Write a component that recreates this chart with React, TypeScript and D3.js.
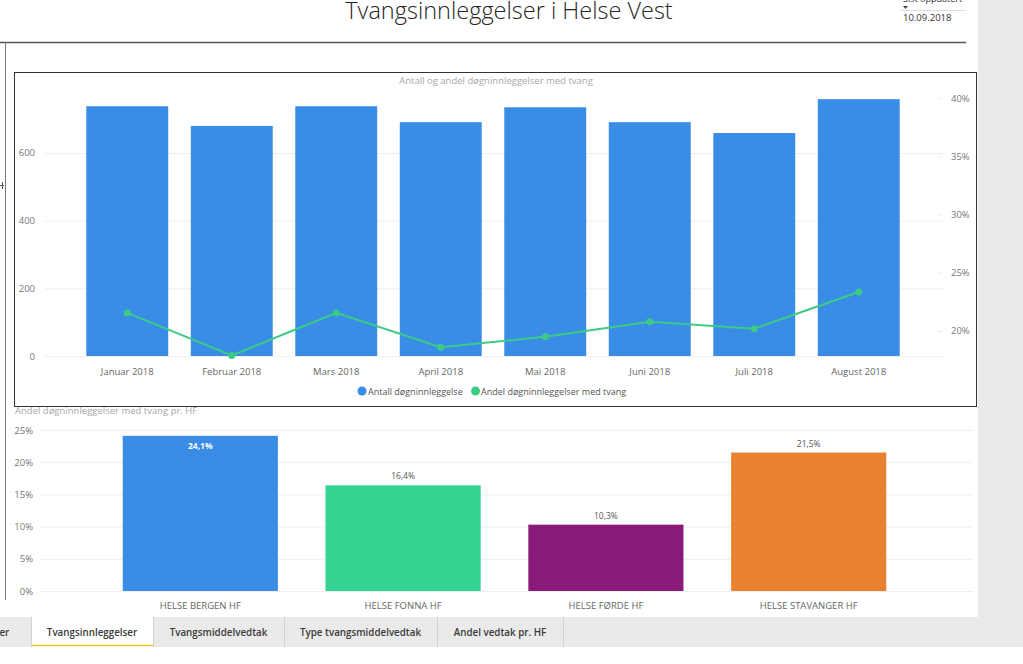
import React from 'react';
import * as d3 from 'd3';

const months = ['Januar 2018', 'Februar 2018', 'Mars 2018', 'April 2018', 'Mai 2018', 'Juni 2018', 'Juli 2018', 'August 2018'];
const antall = [738, 680, 738, 691, 735, 691, 659, 759];
const andel = [0.2155, 0.179, 0.2155, 0.186, 0.195, 0.208, 0.202, 0.2335];
const leftTicks = [0, 200, 400, 600];
const rightTicks = [0.2, 0.25, 0.3, 0.35, 0.4];

const hfNames = ['HELSE BERGEN HF', 'HELSE FONNA HF', 'HELSE FØRDE HF', 'HELSE STAVANGER HF'];
const hfValues = [0.241, 0.164, 0.103, 0.215];
const hfColors = ['#3A8DE6', '#33D491', '#891A79', '#E88231'];
const hfTicks = [0, 0.05, 0.1, 0.15, 0.2, 0.25];

const tabs = ['ger', 'Tvangsinnleggelser', 'Tvangsmiddelvedtak', 'Type tvangsmiddelvedtak', 'Andel vedtak pr. HF'];
const tabEdges = [0, 31, 153, 284, 437, 563];

const FONT = '"Open Sans", "Noto Sans", sans-serif';
const BLUE = '#3A8DE6';
const GREEN = '#3CCB86';

export default function App() {
  // top chart scales
  const x = d3.scaleBand<string>().domain(months).range([75, 911]).paddingInner(0.216).paddingOuter(0.108);
  const yL = d3.scaleLinear().domain([0, 800]).range([356, 85.3]);
  const yR = d3.scaleLinear().domain([0.1785, 0.411]).range([356, 85.3]);
  const line = d3.line<number>().x((_, i) => (x(months[i]) as number) + x.bandwidth() / 2).y((d) => yR(d));
  const pctFmt = (v: number) => `${Math.round(v * 100)}%`;

  // bottom chart scales
  const xb = d3.scaleBand<string>().domain(hfNames).range([99, 910]).paddingInner(0.235).paddingOuter(0.117);
  const yb = d3.scaleLinear().domain([0, 0.25]).range([591, 430]);
  const labFmt = (v: number) => (v * 100).toFixed(1).replace('.', ',') + '%';

  return (
    <svg width={1023} height={664} style={{ position: 'absolute', left: 0, top: 0, fontFamily: FONT }}>
      <rect x={0} y={0} width={1023} height={664} fill="#fff" />
      {/* right gray panel */}
      <rect x={978} y={0} width={45} height={617} fill="#EAEAEA" />

      {/* page title */}
      <text x={509} y={18.5} textAnchor="middle" fontSize={23.5} fontWeight={300} fill="#252525">Tvangsinnleggelser i Helse Vest</text>

      {/* last updated */}
      <text x={903} y={2} fontSize={9} fill="#333">Sist oppdatert</text>
      <path d="M903,6 L908,6 L905.5,9 Z" fill="#444" />
      <line x1={900} x2={966} y1={10.5} y2={10.5} stroke="#DDD" />
      <text x={903} y={21} fontSize={9.5} fill="#333">10.09.2018</text>

      {/* header rule + left border */}
      <line x1={0} x2={966} y1={42.5} y2={42.5} stroke="#555" strokeWidth={1.3} />
      <line x1={5.5} x2={5.5} y1={42} y2={600} stroke="#777" />
      <path d="M0,185.5 L4,185.5 M2.5,182 L2.5,189" stroke="#555" />

      {/* top chart box */}
      <rect x={14.5} y={72.5} width={962} height={334} fill="none" stroke="#333" />
      <text x={496} y={84} textAnchor="middle" fontSize={9.5} fill="#A8A8A8">Antall og andel døgninnleggelser med tvang</text>

      {leftTicks.map((t) => (
        <g key={'lt' + t}>
          <line x1={45} x2={943} y1={yL(t) + 0.5} y2={yL(t) + 0.5} stroke="#EEEEEE" />
          <text x={35} y={yL(t) + 3.5} textAnchor="end" fontSize={9.5} fill="#777">{t}</text>
        </g>
      ))}
      {rightTicks.map((t) => (
        <g key={'rt' + t}>
          <line x1={938} x2={943} y1={yR(t) + 0.5} y2={yR(t) + 0.5} stroke="#EEEEEE" />
          <text x={951} y={yR(t) + 3.5} textAnchor="start" fontSize={9.5} fill="#777">{pctFmt(t)}</text>
        </g>
      ))}

      {antall.map((v, i) => (
        <rect key={'b' + i} x={x(months[i])} y={yL(v)} width={x.bandwidth()} height={yL(0) - yL(v)} fill={BLUE} />
      ))}
      <path d={line(andel) || ''} fill="none" stroke={GREEN} strokeWidth={2} />
      {andel.map((v, i) => (
        <circle key={'p' + i} cx={(x(months[i]) as number) + x.bandwidth() / 2} cy={yR(v)} r={3.5} fill={GREEN} />
      ))}
      {months.map((m) => (
        <text key={m} x={(x(m) as number) + x.bandwidth() / 2} y={375} textAnchor="middle" fontSize={9.5} fill="#666">{m}</text>
      ))}

      {/* legend */}
      <circle cx={362} cy={391} r={4.5} fill={BLUE} />
      <text x={368} y={394.5} fontSize={9} fill="#555">Antall døgninnleggelse</text>
      <circle cx={475.5} cy={391} r={4.5} fill={GREEN} />
      <text x={481} y={394.5} fontSize={9} fill="#555">Andel døgninnleggelser med tvang</text>

      {/* bottom chart */}
      <text x={15} y={414} fontSize={9.5} fill="#A8A8A8">Andel døgninnleggelser med tvang pr. HF</text>
      {hfTicks.map((t) => (
        <g key={'ht' + t}>
          <line x1={40} x2={973} y1={yb(t) + 0.5} y2={yb(t) + 0.5} stroke="#EEEEEE" />
          <text x={33} y={yb(t) + 3.5} textAnchor="end" fontSize={9.5} fill="#777">{pctFmt(t)}</text>
        </g>
      ))}
      {hfValues.map((v, i) => {
        const bx = xb(hfNames[i]) as number;
        const cx = bx + xb.bandwidth() / 2;
        const inside = i === 0;
        return (
          <g key={'hb' + i}>
            <rect x={bx} y={yb(v)} width={xb.bandwidth()} height={yb(0) - yb(v)} fill={hfColors[i]} />
            <text x={cx} y={inside ? yb(v) + 13.5 : yb(v) - 6} textAnchor="middle" fontSize={8.5}
              fontWeight={inside ? 700 : 400} fill={inside ? '#fff' : '#555'}>{labFmt(v)}</text>
            <text x={cx} y={609} textAnchor="middle" fontSize={9.5} fill="#666">{hfNames[i]}</text>
          </g>
        );
      })}

      {/* tab bar */}
      <rect x={0} y={617} width={1023} height={30} fill="#EAEAEA" />
      <rect x={tabEdges[1]} y={617} width={tabEdges[2] - tabEdges[1]} height={30} fill="#fff" />
      <line x1={tabEdges[1]} x2={tabEdges[2]} y1={645.5} y2={645.5} stroke="#F2C811" strokeWidth={1.5} />
      {tabEdges.slice(1).map((e) => (
        <line key={'te' + e} x1={e + 0.5} x2={e + 0.5} y1={617} y2={647} stroke="#D2D2D2" />
      ))}
      {tabs.map((t, i) => (
        <text key={t} x={i === 0 ? -6 : (tabEdges[i] + tabEdges[i + 1]) / 2} y={636} textAnchor={i === 0 ? 'start' : 'middle'}
          fontSize={9.8} fontWeight={600} fill="#3A3A3A">{t}</text>
      ))}
    </svg>
  );
}
